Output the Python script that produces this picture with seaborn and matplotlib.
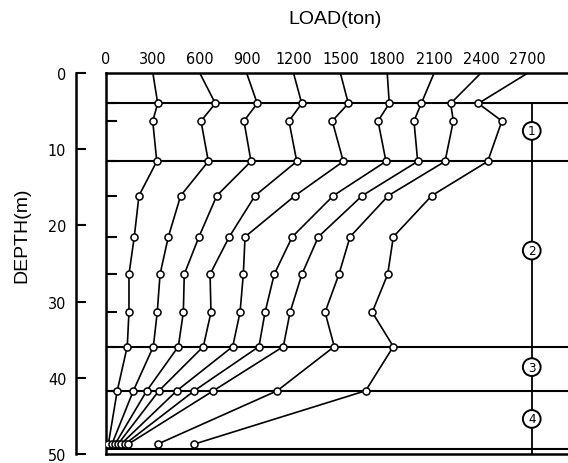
import matplotlib
matplotlib.use("Agg")
import matplotlib.pyplot as plt
from matplotlib import font_manager
from matplotlib.font_manager import FontProperties
import pandas as pd
import seaborn as sns

# ---------------- data ----------------
applied_loads = [300, 600, 900, 1200, 1500, 1800, 2100, 2400, 2700]
gauge_depths = [0.0, 4.0, 6.3, 11.6, 16.1, 21.5, 26.4, 31.4, 35.9, 41.7, 48.7]

load_300 = [300, 331, 299, 325, 211, 181, 147, 147, 136, 72, 15]
load_600 = [600, 700, 608, 655, 478, 399, 346, 328, 303, 175, 38]
load_900 = [900, 968, 883, 928, 709, 595, 501, 495, 463, 261, 58]
load_1200 = [1200, 1253, 1171, 1221, 954, 789, 666, 672, 623, 339, 77]
load_1500 = [1500, 1551, 1448, 1519, 1210, 890, 879, 858, 811, 453, 96]
load_1800 = [1800, 1813, 1741, 1792, 1455, 1192, 1077, 1018, 979, 565, 122]
load_2100 = [2100, 2018, 1971, 1995, 1640, 1359, 1254, 1178, 1135, 687, 143]
load_2400 = [2400, 2206, 2223, 2170, 1807, 1562, 1491, 1402, 1461, 1096, 331]
load_2700 = [2700, 2383, 2534, 2443, 2085, 1839, 1803, 1704, 1839, 1662, 565]

layer_depths = [4.0, 11.6, 35.9, 41.7, 49.3]
zone_labels = ["1", "2", "3", "4"]
zone_depths = [7.6, 23.3, 38.6, 45.4]
zone_load = 2725

xtick_values = [0, 300, 600, 900, 1200, 1500, 1800, 2100, 2400, 2700]
xtick_labels = ["0", "300", "600", "900", "1200", "1500", "1800", "2100", "2400", "2700"]
ytick_values = [0, 10, 20, 30, 40, 50]
ytick_labels = ["0", "10", "20", "30", "40", "50"]

curves = [load_300, load_600, load_900, load_1200, load_1500,
          load_1800, load_2100, load_2400, load_2700]

rows = []
for applied, loads in zip(applied_loads, curves):
    for d, l in zip(gauge_depths, loads):
        rows.append({"applied": applied, "depth": d, "load": l})
df = pd.DataFrame(rows)

# ---------------- fonts ----------------
names = {f.name for f in font_manager.fontManager.ttflist}
num_fp = None
for f in font_manager.fontManager.ttflist:
    if f.name == "Liberation Sans Narrow" and f.weight in (400, "normal", "regular") and f.style == "normal":
        num_fp = FontProperties(fname=f.fname, size=12)
        break
if num_fp is None:
    for f in font_manager.fontManager.ttflist:
        if f.name == "DejaVu Sans" and f.stretch == "condensed" and f.style == "normal" \
                and f.weight in (400, "normal", "regular"):
            num_fp = FontProperties(fname=f.fname, size=11.5)
            break
if num_fp is None:
    fam = "Roboto" if "Roboto" in names else "DejaVu Sans"
    num_fp = FontProperties(family=fam, size=11.5 if fam == "Roboto" else 10)
title_family = "Liberation Sans" if "Liberation Sans" in names else "DejaVu Sans"

# ---------------- figure ----------------
W, H = 568, 464
fig = plt.figure(figsize=(W / 100, H / 100), dpi=100)
fig.patch.set_facecolor("white")

ax = fig.add_axes([106 / W, 1 - 455 / H, 462 / W, 381 / H])

sns.lineplot(data=df, x="load", y="depth", units="applied", estimator=None,
             sort=False, color="black", lw=1.2, ax=ax, legend=False, zorder=3)
pts = df[df["depth"] > 0]
sns.scatterplot(data=pts, x="load", y="depth", marker="o", s=26,
                color="white", edgecolor="black", linewidth=1.1,
                ax=ax, zorder=5, legend=False)

ax.set_xlim(0, 2957)
ax.set_ylim(50, 0)

for d in layer_depths:
    ax.axhline(d, color="black", lw=1.5, zorder=2)

ax.plot([zone_load, zone_load], [layer_depths[0], 50], color="black", lw=1.3, zorder=2)
circ_fp = num_fp.copy()
circ_fp.set_size(9.5)
for lab, d in zip(zone_labels, zone_depths):
    ax.text(zone_load, d, lab, ha="center", va="center", fontproperties=circ_fp,
            zorder=6,
            bbox=dict(boxstyle="circle,pad=0.18", fc="white", ec="black", lw=1.4))

for side in ["top", "left", "bottom"]:
    ax.spines[side].set_linewidth(1.8)
ax.spines["right"].set_visible(False)

ax.xaxis.tick_top()
ax.set_xticks(xtick_values)
ax.set_xticklabels(xtick_labels, fontproperties=num_fp)
ax.tick_params(axis="x", length=0, pad=5)
ax.set_yticks(gauge_depths[1:])
ax.tick_params(axis="y", direction="in", length=8, width=1.5, labelleft=False)
ax.set_xlabel("")
ax.set_ylabel("")

# separate depth scale on the left
axd = fig.add_axes([76 / W, 1 - 455 / H, 0.0001, 381 / H])
axd.set_ylim(50, 0)
axd.set_yticks(ytick_values)
axd.set_yticklabels(ytick_labels, fontproperties=num_fp)
axd.set_xticks([])
for side in ["top", "right", "bottom"]:
    axd.spines[side].set_visible(False)
axd.spines["left"].set_linewidth(1.8)
axd.patch.set_visible(False)
axd.tick_params(axis="y", direction="in", length=7, width=1.5, pad=7)

fig.text(335 / W, 1 - 19 / H, "LOAD(ton)", ha="center", va="center",
         fontsize=14, family=title_family)
fig.text(22 / W, 1 - 235 / H, "DEPTH(m)", ha="center", va="center",
         rotation=90, fontsize=14, family=title_family)

fig.savefig("out.png", dpi=100, facecolor="white")
